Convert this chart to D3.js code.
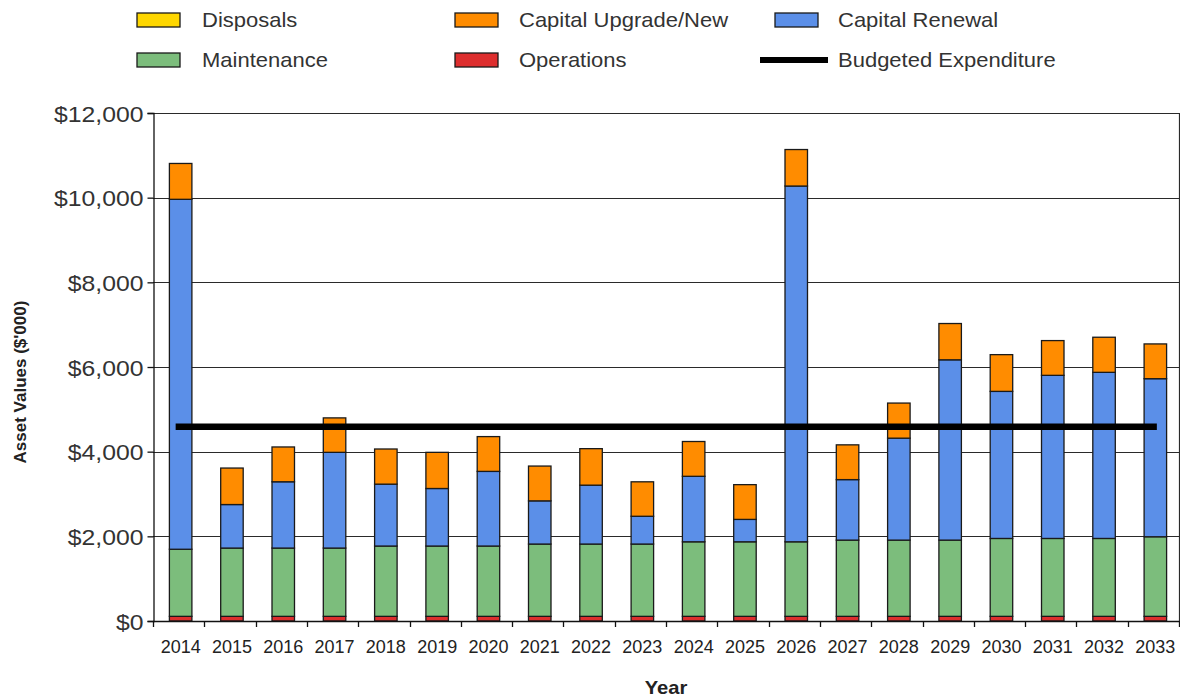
<!DOCTYPE html>
<html>
<head>
<meta charset="utf-8">
<script src="https://cdn.jsdelivr.net/npm/d3@7"></script>
<style>
  html, body { margin: 0; padding: 0; background: #fff; }
  svg { display: block; font-family: Arial, "Liberation Sans", sans-serif; }
</style>
</head>
<body>
<svg id="chart" width="1180" height="698"></svg>
<script>
// Lifecycle expenditure forecast ($'000) by year
const years = ["2014","2015","2016","2017","2018","2019","2020","2021","2022","2023",
               "2024","2025","2026","2027","2028","2029","2030","2031","2032","2033"];
const operations   = [110,110,110,110,110,110,110,110,110,110,110,110,110,110,110,110,110,110,110,110];
const maintenance  = [1585,1613,1613,1613,1661,1661,1661,1708,1708,1708,1761,1761,1761,1801,1801,1801,1840,1840,1840,1880];
const renewal      = [8266,1028,1566,2261,1462,1359,1763,1020,1391,656,1547,529,8404,1429,2408,4259,3474,3853,3924,3734];
const upgrade      = [847,862,822,814,830,854,822,822,862,814,822,821,862,821,829,857,868,821,829,821];
const disposals    = [0,0,0,0,0,0,0,0,0,0,0,0,0,0,0,0,0,0,0,0];
const budget       = 4590;
const yTicks       = [0,2000,4000,6000,8000,10000,12000];

const seriesKeys   = ["Operations","Maintenance","Capital Renewal","Capital Upgrade/New","Disposals"];
const seriesValues = [operations, maintenance, renewal, upgrade, disposals];
const colors = {
  "Disposals": "#ffd700",
  "Capital Upgrade/New": "#ff8c00",
  "Capital Renewal": "#5b8fe8",
  "Maintenance": "#7cbd7c",
  "Operations": "#dd2e2e"
};

const rows = years.map((y, i) => {
  const r = { year: y };
  seriesKeys.forEach((k, j) => r[k] = seriesValues[j][i]);
  return r;
});

const svg = d3.select("#chart");
const plot = { left: 153, right: 1179, top: 113, bottom: 621 };

const x = d3.scaleBand().domain(years).range([plot.left, plot.right]).padding(0);
const y = d3.scaleLinear().domain([0, 12000]).range([plot.bottom, plot.top]);
const barW = 22.5;
const barShift = 2;
const cx = d => x(d) + x.bandwidth() / 2 + barShift;

// horizontal gridlines
svg.append("g")
  .selectAll("line").data(yTicks).join("line")
  .attr("x1", plot.left).attr("x2", plot.right)
  .attr("y1", d => Math.round(y(d)) + 0.5).attr("y2", d => Math.round(y(d)) + 0.5)
  .attr("stroke", "#2a2a2a").attr("stroke-width", 1.2);

// right border
svg.append("line")
  .attr("x1", plot.right + 0.5).attr("x2", plot.right + 0.5)
  .attr("y1", plot.top).attr("y2", plot.bottom)
  .attr("stroke", "#2a2a2a").attr("stroke-width", 1.2);

// stacked bars
const stacked = d3.stack().keys(seriesKeys)(rows);
svg.append("g").selectAll("g").data(stacked).join("g")
  .attr("fill", s => colors[s.key])
  .selectAll("rect").data(s => s.filter(d => d[1] - d[0] > 0)).join("rect")
  .attr("x", d => cx(d.data.year) - barW / 2)
  .attr("width", barW)
  .attr("y", d => y(d[1]))
  .attr("height", d => y(d[0]) - y(d[1]))
  .attr("stroke", "#1a1a1a").attr("stroke-width", 1.3);

// budgeted expenditure line
svg.append("line")
  .attr("x1", cx(years[0]) - 5).attr("x2", cx(years[years.length - 1]) + 1.5)
  .attr("y1", y(budget)).attr("y2", y(budget))
  .attr("stroke", "#000").attr("stroke-width", 6.5);

// y axis
const yAxis = svg.append("g")
  .attr("transform", `translate(${plot.left + 0.5},0)`)
  .call(d3.axisLeft(y).tickValues(yTicks).tickSize(6).tickPadding(4)
        .tickFormat(d => "$" + d3.format(",")(d)));
yAxis.select(".domain").attr("stroke", "#111").attr("stroke-width", 1.3);
yAxis.selectAll(".tick line").attr("stroke", "#111").attr("stroke-width", 1.3);
yAxis.selectAll(".tick text")
  .attr("font-size", 22.5).attr("fill", "#333")
  .attr("dy", "0.36em")
  .attr("transform", "scale(1.1,1)")
  .attr("x", -10 / 1.1);

// x axis: ticks at category boundaries, labels centred on bars
const xg = svg.append("g");
xg.append("line")
  .attr("x1", plot.left).attr("x2", plot.right)
  .attr("y1", plot.bottom + 0.5).attr("y2", plot.bottom + 0.5)
  .attr("stroke", "#111").attr("stroke-width", 1.3);
xg.selectAll(".xt").data(years.concat(["end"])).join("line")
  .attr("class", "xt")
  .attr("x1", (d, i) => Math.round(plot.left + i * x.step()) + 0.5)
  .attr("x2", (d, i) => Math.round(plot.left + i * x.step()) + 0.5)
  .attr("y1", plot.bottom).attr("y2", plot.bottom + 6)
  .attr("stroke", "#111").attr("stroke-width", 1.3);
xg.selectAll(".xl").data(years).join("text")
  .attr("class", "xl")
  .attr("x", d => cx(d)).attr("y", 653)
  .attr("text-anchor", "middle")
  .attr("font-size", 18).attr("fill", "#222")
  .text(d => d);

// axis titles
svg.append("text")
  .attr("transform", "translate(666,694) scale(1.12,1)")
  .attr("text-anchor", "middle")
  .attr("font-size", 18).attr("font-weight", "bold").attr("fill", "#222")
  .text("Year");
svg.append("text")
  .attr("transform", "translate(26,382) rotate(-90)")
  .attr("text-anchor", "middle")
  .attr("font-size", 17).attr("font-weight", "bold").attr("fill", "#222")
  .text("Asset Values ($'000)");

// legend
const legendItems = [
  { key: "Disposals", x: 137, tx: 202, row: 0, type: "box" },
  { key: "Capital Upgrade/New", x: 455, tx: 519, row: 0, type: "box" },
  { key: "Capital Renewal", x: 775, tx: 838, row: 0, type: "box" },
  { key: "Maintenance", x: 137, tx: 202, row: 1, type: "box" },
  { key: "Operations", x: 455, tx: 519, row: 1, type: "box" },
  { key: "Budgeted Expenditure", x: 760, tx: 838, row: 1, type: "line" }
];
const rowY = [20, 60];
const lg = svg.append("g").selectAll("g").data(legendItems).join("g");
lg.filter(d => d.type === "box").append("rect")
  .attr("x", d => d.x).attr("y", d => rowY[d.row] - 7)
  .attr("width", 43).attr("height", 14)
  .attr("fill", d => colors[d.key])
  .attr("stroke", "#1a1a1a").attr("stroke-width", 1.3);
lg.filter(d => d.type === "line").append("line")
  .attr("x1", d => d.x).attr("x2", d => d.x + 68)
  .attr("y1", d => rowY[d.row]).attr("y2", d => rowY[d.row])
  .attr("stroke", "#000").attr("stroke-width", 6);
lg.append("text")
  .attr("transform", d => `translate(${d.tx},${rowY[d.row] + 7}) scale(1.1,1)`)
  .attr("font-size", 20).attr("fill", "#333")
  .text(d => d.key);
</script>
</body>
</html>
